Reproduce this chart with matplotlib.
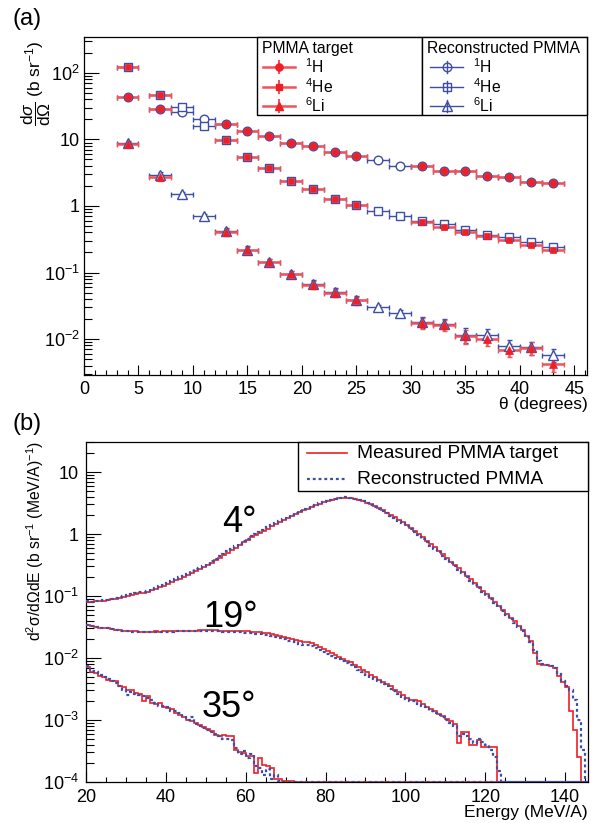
import matplotlib
matplotlib.use('Agg')
import matplotlib.pyplot as plt
import numpy as np
from matplotlib.ticker import FixedLocator, FixedFormatter, LogLocator, MultipleLocator, NullFormatter
from matplotlib.patches import Rectangle

plt.rcParams['font.family'] = ['Liberation Sans', 'DejaVu Sans']
plt.rcParams['mathtext.fontset'] = 'custom'
plt.rcParams['mathtext.rm'] = 'Liberation Sans'
plt.rcParams['mathtext.it'] = 'Liberation Sans:italic'
plt.rcParams['mathtext.bf'] = 'Liberation Sans:bold'
plt.rcParams['mathtext.sf'] = 'Liberation Sans'

# ---------------- data: panel (a) ----------------
ang_meas = [4, 7, 13, 15, 17, 19, 21, 23, 25, 31, 33, 35, 37, 39, 41, 43]
ang_reco = [4, 7, 9, 11, 13, 15, 17, 19, 21, 23, 25, 27, 29, 31, 33, 35, 37, 39, 41, 43]

h_meas = [43, 28.8, 17.3, 13.2, 11.4, 8.9, 7.9, 6.5, 5.7, 3.95, 3.39, 3.31, 2.82, 2.75, 2.33, 2.25]
he_meas = [122, 47, 9.7, 5.5, 3.7, 2.4, 1.77, 1.29, 1.02, 0.575, 0.48, 0.41, 0.35, 0.31, 0.26, 0.22]
li_meas = [8.6, 2.7, 0.40, 0.218, 0.142, 0.094, 0.066, 0.050, 0.038, 0.0174, 0.0163, 0.0111,
           0.0101, 0.0068, 0.0074, 0.0042]

h_reco = [43, 28.8, 26, 20.6, 17.3, 13.2, 11.4, 8.9, 7.9, 6.5, 5.7, 4.98, 4.04, 3.95, 3.39, 3.31,
          2.82, 2.75, 2.33, 2.25]
he_reco = [122, 47, 31, 15.7, 9.7, 5.5, 3.7, 2.4, 1.77, 1.29, 1.02, 0.84, 0.70, 0.59, 0.53, 0.44,
           0.37, 0.34, 0.29, 0.245]
li_reco = [8.8, 2.9, 1.51, 0.71, 0.42, 0.22, 0.145, 0.095, 0.067, 0.051, 0.039, 0.030, 0.025, 0.018,
           0.017, 0.0117, 0.0115, 0.0079, 0.0075, 0.0058]

h_relerr = 0.04
he_relerr = 0.05
li_relerr_meas = [0.08, 0.12, 0.12, 0.12, 0.12, 0.12, 0.14, 0.14, 0.14, 0.18, 0.18, 0.25, 0.22,
                  0.22, 0.22, 0.25]
li_relerr_reco = [0.08, 0.12, 0.08, 0.08, 0.12, 0.12, 0.12, 0.12, 0.14, 0.14, 0.14, 0.10, 0.10,
                  0.18, 0.18, 0.25, 0.22, 0.22, 0.22, 0.22]
ang_halfwidth = 1.0

# ---------------- data: panel (b) ----------------
e_edges = np.arange(20, 147, 1)  # 1 MeV/A bins from 20 to 146

meas_4 = [0.081, 0.080, 0.082, 0.082, 0.083, 0.085, 0.088, 0.091, 0.093, 0.097,
          0.100, 0.103, 0.106, 0.110, 0.113, 0.117, 0.124, 0.131, 0.138, 0.146,
          0.155, 0.167, 0.178, 0.191, 0.205, 0.220, 0.238, 0.256, 0.275, 0.295,
          0.316, 0.345, 0.378, 0.413, 0.452, 0.50, 0.55, 0.60, 0.66, 0.73,
          0.80, 0.88, 0.96, 1.03, 1.12, 1.22, 1.33, 1.44, 1.55, 1.68,
          1.82, 1.96, 2.11, 2.26, 2.42, 2.58, 2.75, 2.92, 3.08, 3.24,
          3.39, 3.53, 3.65, 3.76, 3.85, 3.88, 3.82, 3.70, 3.55, 3.38,
          3.20, 3.01, 2.81, 2.60, 2.40, 2.21, 2.03, 1.86, 1.70, 1.54,
          1.40, 1.26, 1.12, 0.99, 0.88, 0.78, 0.69, 0.61, 0.54, 0.47,
          0.41, 0.36, 0.316, 0.278, 0.243, 0.212, 0.185, 0.160, 0.140, 0.122,
          0.106, 0.093, 0.081, 0.070, 0.060, 0.052, 0.045, 0.039, 0.033, 0.028,
          0.023, 0.019, 0.012, 0.0080, 0.0078, 0.0076, 0.0074, 0.0068, 0.0052, 0.0041,
          0.0034, 0.0014, 0.0007, 0.00025, 0, 0]
reco_4 = [0.082, 0.081, 0.083, 0.083, 0.085, 0.087, 0.090, 0.093, 0.096, 0.100,
          0.103, 0.107, 0.110, 0.114, 0.118, 0.122, 0.129, 0.136, 0.144, 0.152,
          0.162, 0.174, 0.186, 0.200, 0.214, 0.230, 0.249, 0.268, 0.288, 0.310,
          0.332, 0.363, 0.397, 0.434, 0.475, 0.525, 0.58, 0.63, 0.69, 0.77,
          0.84, 0.93, 1.01, 1.09, 1.18, 1.28, 1.39, 1.51, 1.62, 1.75,
          1.89, 2.03, 2.18, 2.33, 2.49, 2.65, 2.82, 2.98, 3.14, 3.29,
          3.44, 3.57, 3.69, 3.79, 3.87, 3.89, 3.83, 3.70, 3.54, 3.36,
          3.17, 2.97, 2.76, 2.55, 2.35, 2.15, 1.97, 1.80, 1.64, 1.48,
          1.34, 1.20, 1.07, 0.95, 0.84, 0.74, 0.65, 0.58, 0.51, 0.45,
          0.39, 0.34, 0.300, 0.264, 0.231, 0.202, 0.176, 0.153, 0.134, 0.116,
          0.101, 0.088, 0.077, 0.067, 0.057, 0.050, 0.043, 0.037, 0.032, 0.027,
          0.022, 0.018, 0.0135, 0.0088, 0.0080, 0.0077, 0.0075, 0.0070, 0.0055, 0.0043,
          0.0036, 0.0030, 0.0021, 0.0010, 0.00033, 0]
meas_19 = [0.034, 0.033, 0.032, 0.031, 0.031, 0.030, 0.029, 0.0285, 0.028, 0.0275,
           0.0272, 0.027, 0.0268, 0.0265, 0.0263, 0.0263, 0.0265, 0.0268, 0.0266, 0.0268,
           0.0269, 0.027, 0.0272, 0.0271, 0.0273, 0.0272, 0.0275, 0.0277, 0.028, 0.0278,
           0.028, 0.0279, 0.0278, 0.0277, 0.0276, 0.0275, 0.0273, 0.0272, 0.0272, 0.027,
           0.027, 0.0266, 0.0262, 0.0258, 0.0254, 0.025, 0.0247, 0.0238, 0.0228, 0.0219,
           0.021, 0.0204, 0.0198, 0.019, 0.0184, 0.0178, 0.0174, 0.0163, 0.0152, 0.0141,
           0.0130, 0.0120, 0.0113, 0.0105, 0.0098, 0.0091, 0.0085, 0.0078, 0.0071, 0.0065,
           0.0059, 0.0054, 0.0050, 0.0045, 0.0041, 0.0038, 0.0035, 0.0031, 0.0028, 0.0025,
           0.0023, 0.0021, 0.0021, 0.0020, 0.0018, 0.0016, 0.00148, 0.0014, 0.00125, 0.00115,
           0.00105, 0.00095, 0.00085, 0.00043, 0.00065, 0.00065, 0.0004, 0.0004, 0.00048, 0.00037,
           0.00037, 0.00037, 0.00037, 0, 0, 0, 0, 0, 0, 0,
           0, 0, 0, 0, 0, 0, 0, 0, 0, 0,
           0, 0, 0, 0, 0, 0]
reco_19 = [0.034, 0.033, 0.032, 0.031, 0.030, 0.030, 0.029, 0.028, 0.0275, 0.027,
           0.027, 0.0265, 0.0265, 0.026, 0.026, 0.026, 0.0262, 0.0262, 0.0265, 0.0265,
           0.0266, 0.0266, 0.0268, 0.0268, 0.027, 0.027, 0.027, 0.0272, 0.0272, 0.0272,
           0.0272, 0.027, 0.027, 0.0268, 0.0266, 0.0265, 0.0263, 0.026, 0.0258, 0.0256,
           0.0254, 0.025, 0.0245, 0.024, 0.0236, 0.0231, 0.0225, 0.0217, 0.0208, 0.0199,
           0.0191, 0.0185, 0.0178, 0.0171, 0.0165, 0.0160, 0.0154, 0.0144, 0.0135, 0.0126,
           0.0116, 0.0108, 0.0101, 0.0095, 0.0089, 0.0083, 0.0077, 0.0071, 0.0065, 0.0060,
           0.0053, 0.0048, 0.0046, 0.0042, 0.0038, 0.0035, 0.0032, 0.0029, 0.0026, 0.0023,
           0.0022, 0.0020, 0.0020, 0.0018, 0.0017, 0.0016, 0.0014, 0.0013, 0.0012, 0.0011,
           0.0010, 0.0009, 0.0008, 0.00055, 0.0006, 0.00055, 0.0005, 0.00042, 0.0005, 0.00045,
           0.0004, 0.00033, 0.00025, 0.00015, 0, 0, 0, 0, 0, 0,
           0, 0, 0, 0, 0, 0, 0, 0, 0, 0,
           0, 0, 0, 0, 0, 0]
meas_35 = [0.0072, 0.0060, 0.0057, 0.0052, 0.0050, 0.0045, 0.0043, 0.0042, 0.0036, 0.0034,
           0.0031, 0.0030, 0.0027, 0.0026, 0.0020, 0.0024, 0.0019, 0.0018, 0.0019, 0.0016,
           0.00155, 0.0015, 0.0013, 0.0012, 0.0011, 0.0010, 0.00095, 0.00088, 0.00082, 0.00077,
           0.00072, 0.00066, 0.00058, 0.00056, 0.00058, 0.00055, 0.00055, 0.00033, 0.00030, 0.00029,
           0.00026, 0.00026, 0.00014, 0.00024, 0.00019, 0.00018, 0.00017, 0.00011, 0.00011, 0.000105,
           0.000103, 0.000102, 0, 0, 0, 0, 0, 0, 0, 0,
           0, 0, 0, 0, 0, 0, 0, 0, 0, 0,
           0, 0, 0, 0, 0, 0, 0, 0, 0, 0,
           0, 0, 0, 0, 0, 0, 0, 0, 0, 0,
           0, 0, 0, 0, 0, 0, 0, 0, 0, 0,
           0, 0, 0, 0, 0, 0, 0, 0, 0, 0,
           0, 0, 0, 0, 0, 0, 0, 0, 0, 0,
           0, 0, 0, 0, 0, 0]
reco_35 = [0.0075, 0.0062, 0.0060, 0.0053, 0.0049, 0.0046, 0.0042, 0.0040, 0.0035, 0.0031,
           0.0025, 0.0028, 0.0026, 0.0025, 0.0024, 0.0023, 0.0021, 0.0019, 0.0017, 0.0017,
           0.0016, 0.0014, 0.0014, 0.0013, 0.00115, 0.0010, 0.0011, 0.00085, 0.0008, 0.00075,
           0.0007, 0.00064, 0.0006, 0.00055, 0.0005, 0.0005, 0.00048, 0.00035, 0.00028, 0.00032,
           0.00024, 0.00028, 0.00018, 0.00017, 0.00013, 0.00016, 0.00011, 0.00013, 0.000102, 0.000101,
           0, 0, 0, 0, 0, 0, 0, 0, 0, 0,
           0, 0, 0, 0, 0, 0, 0, 0, 0, 0,
           0, 0, 0, 0, 0, 0, 0, 0, 0, 0,
           0, 0, 0, 0, 0, 0, 0, 0, 0, 0,
           0, 0, 0, 0, 0, 0, 0, 0, 0, 0,
           0, 0, 0, 0, 0, 0, 0, 0, 0, 0,
           0, 0, 0, 0, 0, 0, 0, 0, 0, 0,
           0, 0, 0, 0, 0, 0]

angle_labels = ['4°', '19°', '35°']

# ---------------- styling ----------------
RED = '#ee1f26'
RED_E = '#f0525a'
BLUE = '#3c4ea6'
W, H = 597, 823

fig = plt.figure(figsize=(W / 100, H / 100), dpi=100)


def box(l, t, r, b):
    return [l / W, 1 - b / H, (r - l) / W, (b - t) / H]


ax1 = fig.add_axes(box(84, 37, 587, 375))
ax2 = fig.add_axes(box(86, 442, 588, 782))

# ---------------- panel (a) ----------------
series = [
    (h_meas, h_reco, [h_relerr] * len(h_meas), [h_relerr] * len(h_reco), 'o', 5.2, 6.2),
    (he_meas, he_reco, [he_relerr] * len(he_meas), [he_relerr] * len(he_reco), 's', 4.6, 5.6),
    (li_meas, li_reco, li_relerr_meas, li_relerr_reco, '^', 6.0, 7.0),
]
for m, r, em, er, mk, ms_r, ms_b in series:
    m = np.array(m); r = np.array(r)
    ax1.errorbar(ang_reco, r, xerr=ang_halfwidth, yerr=r * np.array(er), fmt='none',
                 ecolor=BLUE, elinewidth=1.0, capsize=1.8, capthick=1.0, zorder=2)
    ax1.errorbar(ang_meas, m, xerr=ang_halfwidth, yerr=m * np.array(em), fmt='none',
                 ecolor=RED_E, elinewidth=1.8, capsize=1.8, capthick=1.0, zorder=3)
    ax1.plot(ang_reco, r, linestyle='none', marker=mk, ms=ms_b, mfc='white', mec=BLUE, mew=1.0,
             zorder=4)
    ax1.plot(ang_meas, m, linestyle='none', marker=mk, ms=ms_r, mfc=RED, mec=RED, mew=0.5,
             zorder=5)

ax1.set_yscale('log')
ax1.set_xlim(0, 46.15)
ax1.set_ylim(2.88e-3, 347)
ax1.xaxis.set_major_locator(MultipleLocator(5))
ax1.xaxis.set_minor_locator(MultipleLocator(1))
ax1.yaxis.set_major_locator(FixedLocator([1e-2, 1e-1, 1, 10, 100]))
ax1.yaxis.set_major_formatter(FixedFormatter(['$10^{-2}$', '$10^{-1}$', '1', '10', '$10^{2}$']))
ax1.yaxis.set_minor_locator(LogLocator(base=10, subs=np.arange(2, 10), numticks=20))
ax1.yaxis.set_minor_formatter(NullFormatter())

# ---------------- panel (b) ----------------
ymin_b = 1e-4
curves = [(meas_4, reco_4), (meas_19, reco_19), (meas_35, reco_35)]
for m, r in curves:
    ax2.stairs(np.clip(np.array(m, float), ymin_b, None), e_edges, baseline=None,
               color=RED, lw=1.2, zorder=3)
    ax2.stairs(np.clip(np.array(r, float), ymin_b, None), e_edges, baseline=None,
               color=BLUE, lw=1.6, linestyle=(0, (1.3, 1.3)), zorder=4)

ax2.set_yscale('log')
ax2.set_xlim(20, 145.75)
ax2.set_ylim(ymin_b, 30.5)
ax2.xaxis.set_major_locator(MultipleLocator(20))
ax2.xaxis.set_minor_locator(MultipleLocator(5))
ax2.yaxis.set_major_locator(FixedLocator([1e-4, 1e-3, 1e-2, 1e-1, 1, 10]))
ax2.yaxis.set_major_formatter(FixedFormatter(['$10^{-4}$', '$10^{-3}$', '$10^{-2}$', '$10^{-1}$', '1', '10']))
ax2.yaxis.set_minor_locator(LogLocator(base=10, subs=np.arange(2, 10), numticks=20))
ax2.yaxis.set_minor_formatter(NullFormatter())

for ax in (ax1, ax2):
    ax.tick_params(which='both', direction='in', top=False, right=False, width=0.8,
                   labelsize=13, colors='black')
    ax.tick_params(axis='y', which='major', length=11, pad=3)
    ax.tick_params(axis='y', which='minor', length=5.5)
    ax.tick_params(axis='x', which='major', length=7, pad=4)
    ax.tick_params(axis='x', which='minor', length=3.5)
    for s in ax.spines.values():
        s.set_linewidth(0.9)
ax2.tick_params(axis='y', which='major', pad=5)
ax2.tick_params(axis='x', which='major', pad=5)

# ---------------- overlay (pixel coordinates) ----------------
ov = fig.add_axes([0, 0, 1, 1], zorder=10)
ov.set_xlim(0, W)
ov.set_ylim(H, 0)
ov.axis('off')
ov.patch.set_alpha(0)

ov.text(12, 19, '(a)', fontsize=17, ha='left', va='center')
ov.text(12, 424, '(b)', fontsize=17, ha='left', va='center')

ov.text(36, 40, r'$\dfrac{\mathrm{d}\sigma}{\mathrm{d}\Omega}$ (b sr$^{-1}$)', fontsize=12.5,
        rotation=90, ha='center', va='top')
ov.text(35, 441, 'd$^{2}$σ/dΩdE (b sr$^{-1}$ (MeV/A)$^{-1}$)', fontsize=11.3,
        rotation=90, ha='center', va='top')
ov.text(588, 404, 'θ (degrees)', fontsize=12.5, ha='right', va='center')
ov.text(588, 812, 'Energy (MeV/A)', fontsize=12.5, ha='right', va='center')

for lab, (xl, yb) in zip(angle_labels, [(222, 532), (203, 627), (202, 717)]):
    ov.text(xl, yb, lab, fontsize=26, ha='left', va='baseline')

# legends of panel (a)
species_labels = ['$^{1}$H', '$^{4}$He', '$^{6}$Li']
markers = [('o', 5.2, 6.2), ('s', 4.6, 5.6), ('^', 6.0, 7.0)]
rows = [67, 87, 106]
for (l, r, title, xs0, xs1, xt, kind) in [(257, 422, 'PMMA target', 263, 295, 305, 'm'),
                                           (422, 587, 'Reconstructed PMMA', 430, 463, 473, 'r')]:
    ov.add_patch(Rectangle((l, 37), r - l, 78, fc='white', ec='black', lw=1.0, zorder=1))
    ov.text(l + 5, 48, title, fontsize=11.3, ha='left', va='center', zorder=2)
    for lab, (mk, msr, msb), yy in zip(species_labels, markers, rows):
        xc = (xs0 + xs1) / 2
        if kind == 'm':
            ov.plot([xs0, xs1], [yy, yy], color=RED_E, lw=1.8, zorder=2)
            ov.plot([xc, xc], [yy - 6, yy + 6], color=RED_E, lw=1.5, zorder=2)
            ov.plot([xc], [yy], marker=mk, ms=msr, mfc=RED, mec=RED, zorder=3)
        else:
            ov.plot([xs0, xs1], [yy, yy], color=BLUE, lw=1.0, zorder=2)
            ov.plot([xc, xc], [yy - 6, yy + 6], color=BLUE, lw=1.0, zorder=2)
            ov.plot([xc], [yy], marker=mk, ms=msb, mfc='none', mec=BLUE, mew=1.0, zorder=3)
        ov.text(xt, yy, lab, fontsize=11.3, ha='left', va='center', zorder=3)

# legend of panel (b)
ov.add_patch(Rectangle((298, 442), 290, 49, fc='white', ec='black', lw=1.0, zorder=1))
ov.plot([307, 347], [453, 453], color=RED, lw=1.2, zorder=2)
ov.plot([307, 347], [479, 479], color=BLUE, lw=1.6, linestyle=(0, (1.3, 1.3)), zorder=2)
ov.text(357, 453, 'Measured PMMA target', fontsize=13.8, ha='left', va='center', zorder=3)
ov.text(357, 479, 'Reconstructed PMMA', fontsize=13.8, ha='left', va='center', zorder=3)

fig.savefig('out.png', dpi=100)
